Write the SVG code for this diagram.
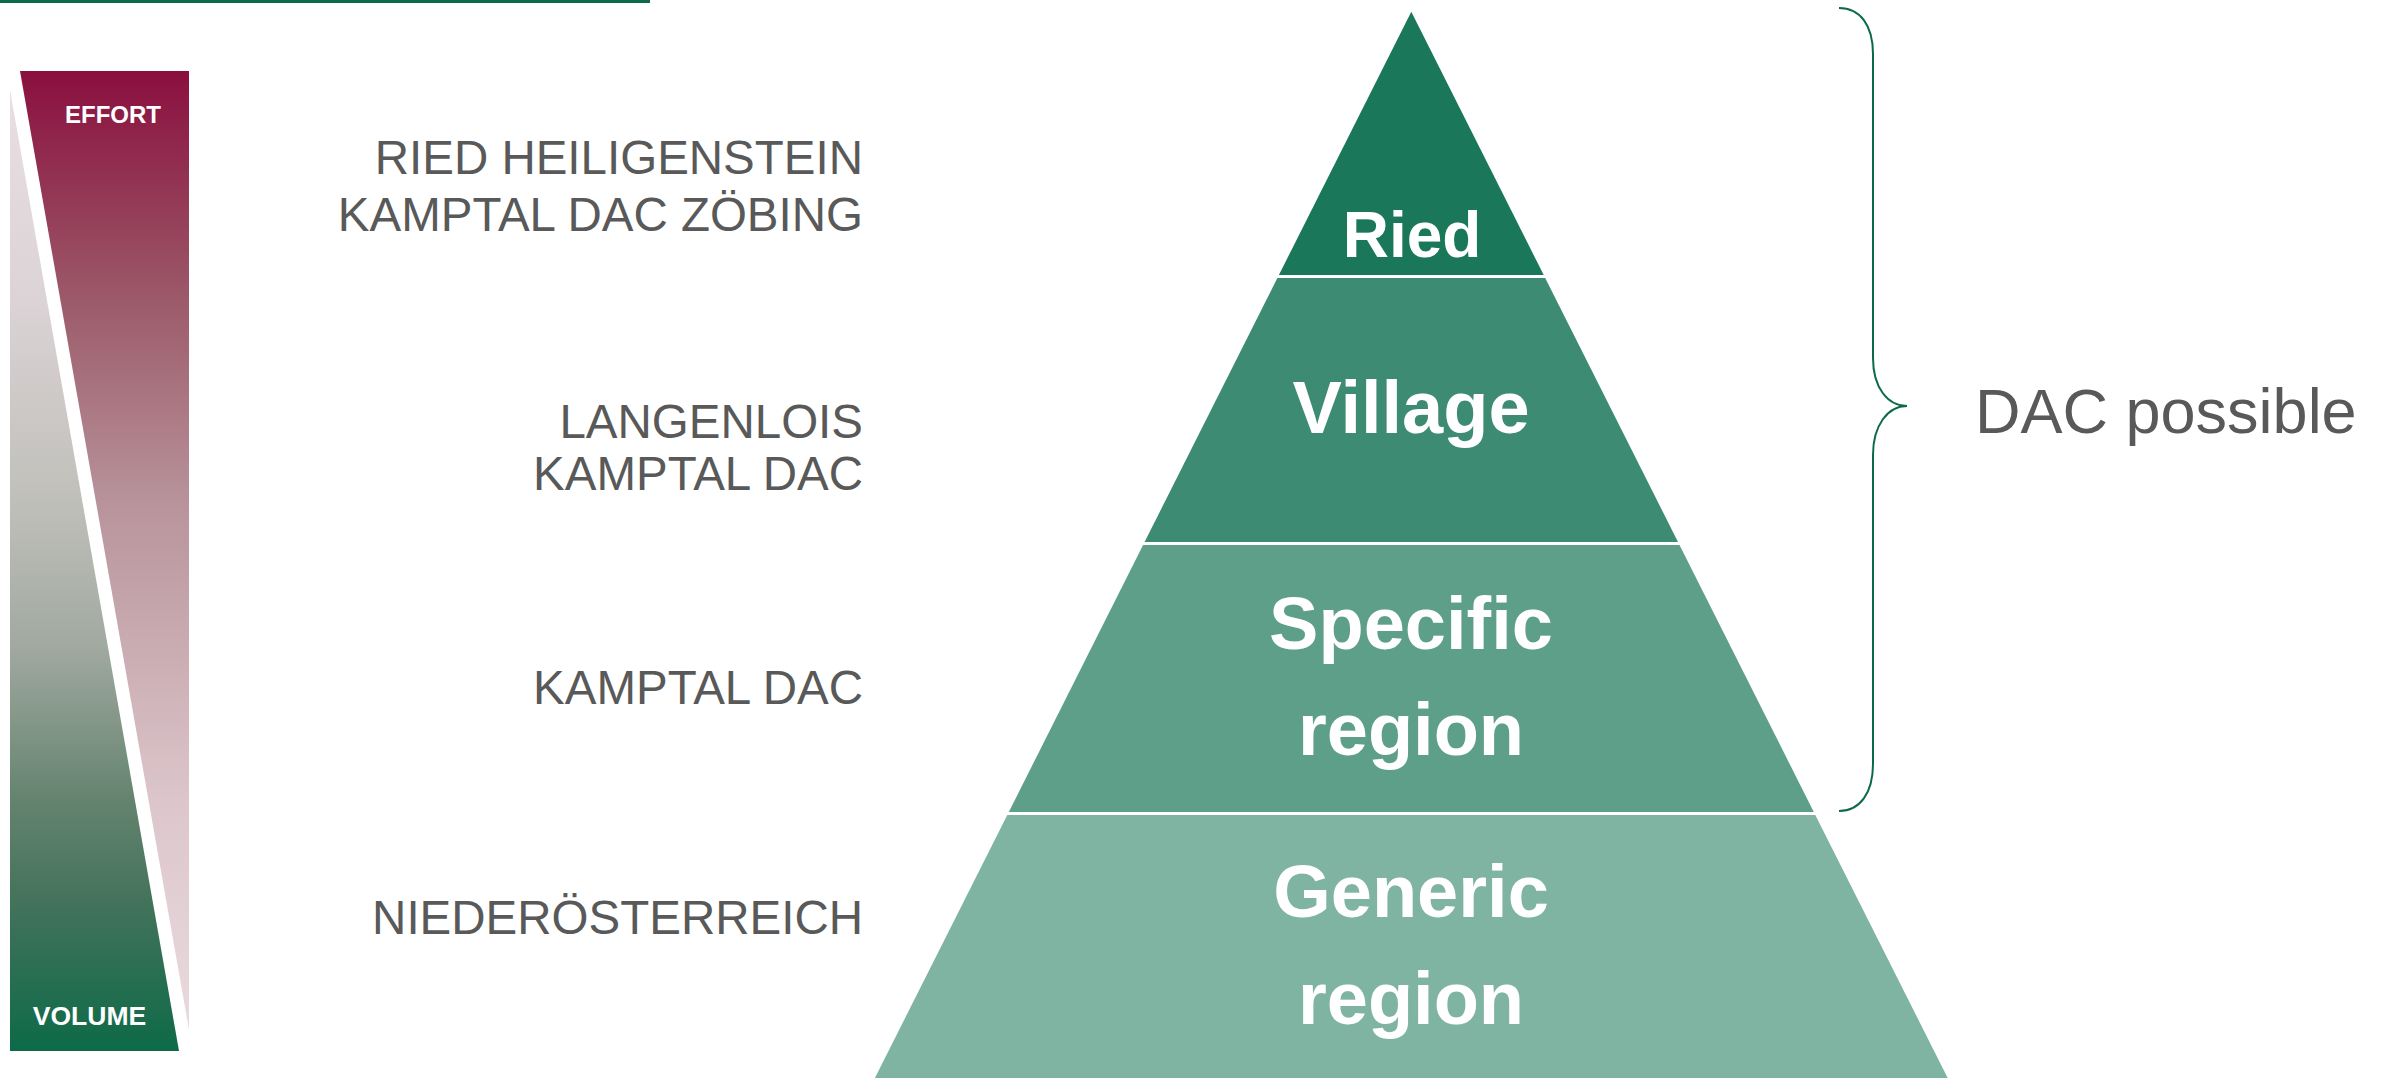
<svg xmlns="http://www.w3.org/2000/svg" width="2387" height="1078" viewBox="0 0 2387 1078">
  <style>
    .lbl{font-family:"Liberation Sans",Arial,sans-serif;font-size:47.5px;fill:#595959;text-anchor:end}
    .pyr{font-family:"Liberation Sans",Arial,sans-serif;font-weight:bold;fill:#ffffff;text-anchor:middle}
    .bar{font-family:"Liberation Sans",Arial,sans-serif;font-weight:bold;fill:#ffffff;text-anchor:middle}
  </style>
  <defs>
    <linearGradient id="gEffort" gradientUnits="userSpaceOnUse" x1="0" y1="71" x2="0" y2="1030">
      <stop offset="0" stop-color="#8a0f3e"/>
      <stop offset="0.24" stop-color="#9c5a6a"/>
      <stop offset="0.45" stop-color="#b8939b"/>
      <stop offset="0.76" stop-color="#dcc6cb"/>
      <stop offset="1" stop-color="#e9dadd"/>
    </linearGradient>
    <linearGradient id="gVolume" gradientUnits="userSpaceOnUse" x1="0" y1="90" x2="0" y2="1051">
      <stop offset="0" stop-color="#e9dfe2"/>
      <stop offset="0.22" stop-color="#dbd3d5"/>
      <stop offset="0.43" stop-color="#bfbfb9"/>
      <stop offset="0.58" stop-color="#a1a9a0"/>
      <stop offset="0.74" stop-color="#64836f"/>
      <stop offset="0.84" stop-color="#45735c"/>
      <stop offset="1" stop-color="#0d6a48"/>
    </linearGradient>
  </defs>
  <rect x="0" y="0" width="2387" height="1078" fill="#ffffff"/>
  <rect id="topline" x="0" y="0" width="650" height="3" fill="#0b6b4a"/>

  <g id="volume-bar">
    <polygon points="10,90 10,1051 179,1051" fill="url(#gVolume)"/>
    <text class="bar" x="89.5" y="1025" font-size="26.5">VOLUME</text>
  </g>
  <g id="effort-bar">
    <polygon points="20,71 189,71 189,1030" fill="url(#gEffort)"/>
    <text class="bar" x="113" y="123" font-size="24">EFFORT</text>
  </g>

  <g id="labels">
    <text class="lbl" x="863" y="174">RIED HEILIGENSTEIN</text>
    <text class="lbl" x="863" y="231">KAMPTAL DAC ZÖBING</text>
    <text class="lbl" x="863" y="438">LANGENLOIS</text>
    <text class="lbl" x="863" y="490">KAMPTAL DAC</text>
    <text class="lbl" x="863" y="704">KAMPTAL DAC</text>
    <text class="lbl" x="863" y="934">NIEDERÖSTERREICH</text>
  </g>

  <g id="layer-ried">
    <polygon points="1411.3,11.7 1543.7,275 1278.9,275" fill="#1b7759"/>
    <text class="pyr" x="1412" y="257" font-size="64">Ried</text>
  </g>
  <g id="layer-village">
    <polygon points="1277.4,278 1545.2,278 1678,542 1144.6,542" fill="#3d8b73"/>
    <text class="pyr" x="1411" y="433" font-size="74">Village</text>
  </g>
  <g id="layer-specific">
    <polygon points="1143.1,545 1679.5,545 1813.8,812 1008.8,812" fill="#5e9f89"/>
    <text class="pyr" x="1411" y="649" font-size="74">Specific</text>
    <text class="pyr" x="1411" y="755" font-size="74">region</text>
  </g>
  <g id="layer-generic">
    <polygon points="1007.3,815 1815.3,815 1947.7,1078 874.9,1078" fill="#80b4a2"/>
    <text class="pyr" x="1411" y="917" font-size="74">Generic</text>
    <text class="pyr" x="1411" y="1024" font-size="74">region</text>
  </g>

  <g id="connectors">
    <path d="M1839,8 C1860,8 1873,25 1873,54 L1873,358 C1873,388 1888,406 1907,406 C1888,406 1873,425 1873,455 L1873,764 C1873,793 1860,811 1839,811" fill="none" stroke="#0d6a48" stroke-width="2"/>
  </g>
  <g id="dac-possible">
    <text x="1975" y="432.5" font-family="'Liberation Sans',Arial,sans-serif" font-size="63" fill="#595959">DAC possible</text>
  </g>
</svg>
